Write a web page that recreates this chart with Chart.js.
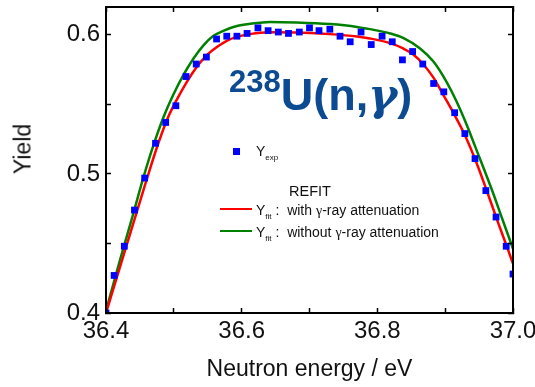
<!DOCTYPE html>
<html>
<head>
<meta charset="utf-8">
<title>238U(n,γ) yield</title>
<script src="https://cdn.jsdelivr.net/npm/chart.js@4.4.1/dist/chart.umd.min.js"></script>
<style>
  body { margin: 0; background: #fff; }
  #wrap { position: relative; width: 535px; height: 387px; font-family: "Liberation Sans", Arial, sans-serif; color: #111; }
  #wrap canvas { position: absolute; left: 0; top: 0; }
  .txt { position: absolute; white-space: nowrap; line-height: 1; }
  .sub { position: relative; top: 4px; font-size: 8px; }
  .greek { font-family: "Liberation Serif", "DejaVu Serif", serif; }
  #ylab { left: 22.5px; top: 149px; font-size: 23px; transform: translate(-50%, -50%) rotate(-90deg); }
  #reaction { left: 229px; top: 72.4px; font-size: 45px; font-weight: bold; color: #0c4a92; }
  #reaction .mass { position: relative; top: -18.5px; font-size: 31px; }
  #reaction .greek { font-family: "DejaVu Serif", serif; font-style: italic; font-size: 44px; }
  .mark { position: absolute; left: 232.5px; top: 147.5px; width: 7px; height: 7px; }
  .swatch { position: absolute; left: 220px; width: 32px; height: 2.5px; }
  .leg { font-size: 14px; }
</style>
</head>
<body>
<div id="wrap">
  <canvas id="yieldChart" width="535" height="387"></canvas>
  <div class="txt" id="ylab">Yield</div>
  <div class="txt" id="reaction"><span class="mass">238</span>U(n,<span class="greek">γ</span>)</div>
  <div class="mark" id="markExp"></div>
  <div class="txt leg" style="left:256px; top:144.15px;">Y<span class="sub">exp</span></div>
  <div class="txt" style="left:289px; top:183.7px; font-size:14.5px;">REFIT</div>
  <div class="swatch" id="swAtt" style="top:207.75px;"></div>
  <div class="txt leg" style="left:256px; top:203.15px;">Y<span class="sub">fit</span> :&nbsp; with <span class="greek">γ</span>-ray attenuation</div>
  <div class="swatch" id="swNoAtt" style="top:229.5px;"></div>
  <div class="txt leg" style="left:256px; top:225.45px;">Y<span class="sub">fit</span> :&nbsp; without <span class="greek">γ</span>-ray attenuation</div>
</div>
<script>
// measured capture yield around the 36.7 eV resonance
const expEnergy = [36.400, 36.412, 36.427, 36.442, 36.457, 36.473, 36.488, 36.503, 36.518, 36.533,
                   36.548, 36.563, 36.578, 36.593, 36.608, 36.624, 36.639, 36.654, 36.669, 36.685,
                   36.700, 36.714, 36.730, 36.745, 36.760, 36.776, 36.791, 36.807, 36.822, 36.837,
                   36.852, 36.867, 36.883, 36.898, 36.914, 36.929, 36.944, 36.960, 36.975, 36.990, 37.000];
const expYield = [0.400, 0.427, 0.448, 0.474, 0.497, 0.522, 0.537, 0.549, 0.570, 0.579,
                  0.584, 0.597, 0.599, 0.599, 0.601, 0.605, 0.603, 0.602, 0.601, 0.602,
                  0.605, 0.603, 0.604, 0.599, 0.595, 0.602, 0.593, 0.599, 0.595, 0.582,
                  0.588, 0.579, 0.565, 0.559, 0.544, 0.529, 0.511, 0.488, 0.469, 0.448, 0.428];

// REFIT, with gamma-ray attenuation
const fitAttEnergy = [36.400, 36.420, 36.440, 36.460, 36.475, 36.490, 36.504, 36.519, 36.534, 36.548,
                      36.563, 36.578, 36.593, 36.612, 36.642, 36.681, 36.730, 36.770, 36.789, 36.819,
                      36.838, 36.853, 36.868, 36.883, 36.897, 36.912, 36.929, 36.947, 36.962, 36.978,
                      36.993, 37.000];
const fitAttYield = [0.400, 0.432, 0.464, 0.496, 0.519, 0.539, 0.553, 0.566, 0.577, 0.585,
                     0.591, 0.5957, 0.5985, 0.6005, 0.6018, 0.6017, 0.6005, 0.5988, 0.5974, 0.5940,
                     0.5902, 0.5859, 0.5787, 0.5690, 0.5570, 0.5440, 0.5280, 0.5070, 0.4870, 0.4650,
                     0.4450, 0.4355];

// REFIT, without gamma-ray attenuation
const fitNoAttEnergy = [36.400, 36.420, 36.440, 36.454, 36.470, 36.485, 36.499, 36.514, 36.529, 36.544,
                        36.558, 36.573, 36.593, 36.612, 36.642, 36.681, 36.730, 36.770, 36.789, 36.819,
                        36.838, 36.863, 36.883, 36.902, 36.917, 36.932, 36.944, 36.969, 36.983, 36.998,
                        37.000];
const fitNoAttYield = [0.4015, 0.437, 0.471, 0.4956, 0.5207, 0.5411, 0.5567, 0.5710, 0.5830, 0.5926,
                       0.5991, 0.6029, 0.6063, 0.6079, 0.6093, 0.6089, 0.6077, 0.6057, 0.6041, 0.6010,
                       0.5978, 0.5902, 0.5806, 0.5662, 0.5519, 0.5350, 0.5200, 0.4884, 0.4693, 0.4489,
                       0.4462];

const xTickLabels = ['36.4', '36.6', '36.8', '37.0'];
const yTickLabels = ['0.4', '0.5', '0.6'];

const expColor = '#0000ff';
const attColor = '#ff0000';
const noAttColor = '#008000';

document.getElementById('markExp').style.background = expColor;
document.getElementById('swAtt').style.background = attColor;
document.getElementById('swNoAtt').style.background = noAttColor;

const toPoints = (xs, ys) => xs.map((x, i) => ({ x: x, y: ys[i] }));
const labelFor = (list) => (v) => list.find(t => Math.abs(parseFloat(t) - v) < 1e-6) || '';

// fixed box sizes; edge labels may hang over the frame without shrinking the plot
const fixHeight = (h) => (s) => { s.height = h; s.paddingLeft = 0; s.paddingRight = 0; };
const fixWidth = (w) => (s) => { s.width = w; s.paddingTop = 0; s.paddingBottom = 0; };

const fontFamily = '"Liberation Sans", Arial, sans-serif';
const tickFont = { family: fontFamily, size: 24 };

// inward tick marks, drawn over the data like the frame
const frameGrid = { drawOnChartArea: false, tickLength: -5, tickWidth: 1.5, tickColor: '#000', z: 1 };
const frameBorder = { color: '#000', width: 2, z: 1 };

new Chart(document.getElementById('yieldChart').getContext('2d'), {
    type: 'scatter',
    data: {
        datasets: [{
            label: 'Y exp',
            data: toPoints(expEnergy, expYield),
            backgroundColor: expColor,
            borderWidth: 0,
            pointStyle: 'rect',
            pointRadius: 4.8,
            clip: 0
        }, {
            label: 'Y fit: with gamma-ray attenuation',
            data: toPoints(fitAttEnergy, fitAttYield),
            showLine: true,
            borderColor: attColor,
            borderWidth: 2.5,
            pointRadius: 0,
            cubicInterpolationMode: 'monotone'
        }, {
            label: 'Y fit: without gamma-ray attenuation',
            data: toPoints(fitNoAttEnergy, fitNoAttYield),
            showLine: true,
            borderColor: noAttColor,
            borderWidth: 2.5,
            pointRadius: 0,
            cubicInterpolationMode: 'monotone'
        }]
    },
    options: {
        responsive: false,
        animation: false,
        layout: { padding: { top: 7, right: 22, left: 0, bottom: 0 } },
        plugins: { legend: { display: false }, tooltip: { enabled: false } },
        scales: {
            x: {
                type: 'linear',
                position: 'bottom',
                min: 36.4,
                max: 37.0,
                afterFit: fixHeight(74),
                ticks: { stepSize: 0.1, padding: 9, autoSkip: false, maxRotation: 0, color: '#111', font: tickFont,
                         callback: labelFor(xTickLabels) },
                grid: frameGrid,
                border: frameBorder,
                title: { display: true, text: 'Neutron energy / eV', color: '#111',
                         font: { family: fontFamily, size: 23 }, padding: { top: 0, bottom: 4 } }
            },
            x2: {
                type: 'linear',
                position: 'top',
                min: 36.4,
                max: 37.0,
                afterFit: fixHeight(0),
                ticks: { display: false, stepSize: 0.1 },
                grid: frameGrid,
                border: frameBorder
            },
            y: {
                type: 'linear',
                position: 'left',
                min: 0.4,
                max: 0.62,
                afterFit: fixWidth(106),
                ticks: { stepSize: 0.05, includeBounds: false, padding: 11, autoSkip: false, color: '#111', font: tickFont,
                         callback: labelFor(yTickLabels) },
                grid: frameGrid,
                border: frameBorder
            },
            y2: {
                type: 'linear',
                position: 'right',
                min: 0.4,
                max: 0.62,
                afterFit: fixWidth(0),
                ticks: { display: false, stepSize: 0.05, includeBounds: false },
                grid: frameGrid,
                border: frameBorder
            }
        }
    }
});
</script>
</body>
</html>
